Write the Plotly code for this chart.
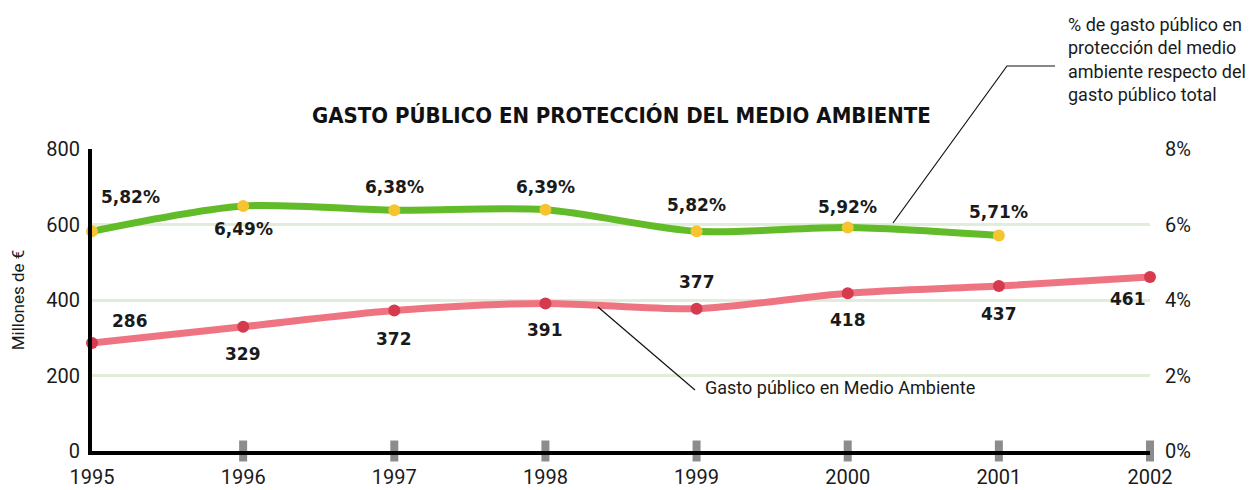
import plotly.graph_objects as go

# Data
years = [1995, 1996, 1997, 1998, 1999, 2000, 2001, 2002]
gasto_ma = [286, 329, 372, 391, 377, 418, 437, 461]          # millones de euros
pct_years = [1995, 1996, 1997, 1998, 1999, 2000, 2001]
pct_gasto = [5.82, 6.49, 6.38, 6.39, 5.82, 5.92, 5.71]       # % del gasto público total
left_ticks = [0, 200, 400, 600, 800]
right_ticks = [0, 2, 4, 6, 8]

# Label placement (pixel offsets from each point)
gasto_offsets = [(38, 22), (0, -27), (0, -28), (0, -27), (0, 27), (0, -27), (0, -28), (-22, -22)]
pct_offsets = [(38, 34), (0, -23), (0, 23), (0, 23), (0, 26), (0, 21), (0, 23)]

GREEN = "#62BC2A"
YELLOW = "#F6C431"
PINK = "#EE7482"
RED = "#D63A4F"
GRID = "#E2EDD9"
FONT = "Roboto"
LABEL_FONT = dict(family="DejaVu Sans", size=17, color="#1a1a1a")

fig = go.Figure()

fig.add_trace(go.Scatter(
    x=years, y=gasto_ma, mode="lines+markers",
    line=dict(color=PINK, width=7, shape="spline", smoothing=0.8),
    marker=dict(color=RED, size=12),
    cliponaxis=False, showlegend=False, hoverinfo="skip",
))
fig.add_trace(go.Scatter(
    x=pct_years, y=pct_gasto, mode="lines+markers", yaxis="y2",
    line=dict(color=GREEN, width=7, shape="spline", smoothing=0.8),
    marker=dict(color=YELLOW, size=12),
    cliponaxis=False, showlegend=False, hoverinfo="skip",
))

# Gray tick blocks on the x axis
fig.add_trace(go.Scatter(
    x=years[1:], y=[0] * (len(years) - 1), mode="markers",
    marker=dict(symbol="line-ns", size=15, line=dict(color="#8C8C8C", width=8)),
    cliponaxis=False, showlegend=False, hoverinfo="skip",
))

annotations = []
for x, v, (dx, dy) in zip(years, gasto_ma, gasto_offsets):
    annotations.append(dict(
        x=x, y=v, xref="x", yref="y", text=f"<b>{v}</b>", showarrow=False,
        xshift=dx, yshift=dy, font=LABEL_FONT,
    ))
for x, v, (dx, dy) in zip(pct_years, pct_gasto, pct_offsets):
    annotations.append(dict(
        x=x, y=v, xref="x", yref="y2", text="<b>" + f"{v:.2f}".replace(".", ",") + "%</b>",
        showarrow=False, xshift=dx, yshift=dy, font=LABEL_FONT,
    ))

L, R, T, B = 92, 104, 149, 39
PW, PH = 1254 - L - R, 490 - T - B


def px(x, y):
    return (x - L) / PW, (490 - B - y) / PH


# Callout texts
cx, cy = px(703, 387)
annotations.append(dict(
    x=cx, y=cy, xref="paper", yref="paper", xanchor="left", yanchor="middle",
    text="Gasto público en Medio Ambiente", showarrow=False,
    font=dict(family=FONT, size=18, color="#1a1a1a"),
))
tx, ty = px(1066, 60)
annotations.append(dict(
    x=tx, y=ty, xref="paper", yref="paper", xanchor="left", yanchor="middle", align="left",
    text="% de gasto público en<br>protección del medio<br>ambiente respecto del<br>gasto público total",
    showarrow=False, font=dict(family=FONT, size=18, color="#1a1a1a"),
))

# Title
annotations.append(dict(
    x=0.5, y=px(0, 115)[1], xref="paper", yref="paper", xanchor="center", yanchor="middle",
    text="<b>GASTO PÚBLICO EN PROTECCIÓN DEL MEDIO AMBIENTE</b>", showarrow=False,
    font=dict(family="DejaVu Sans Condensed", size=22, color="#111111"),
))

# Leader lines
p1, p2 = px(598, 307), px(695, 390)
p3, p4, p5 = px(893, 223), px(1007, 66), px(1055, 66)
shapes = [
    dict(type="line", xref="paper", yref="paper", x0=p1[0], y0=p1[1], x1=p2[0], y1=p2[1],
         line=dict(color="#111111", width=1.2)),
    dict(type="path", xref="paper", yref="paper",
         path=f"M {p3[0]} {p3[1]} L {p4[0]} {p4[1]} L {p5[0]} {p5[1]}",
         line=dict(color="#111111", width=1.2)),
]

fig.update_layout(
    width=1254, height=490,
    margin=dict(l=L, r=R, t=T, b=B, autoexpand=False),
    paper_bgcolor="white", plot_bgcolor="white",
    font=dict(family=FONT, size=20, color="#1a1a1a"),
    annotations=annotations, shapes=shapes,
    xaxis=dict(
        range=[1995, 2002], tickvals=years, ticktext=[str(y) for y in years],
        showgrid=False, zeroline=False, showline=True, linecolor="#000000", linewidth=4,
        ticks="", ticklabelstandoff=5, tickfont=dict(size=20), automargin=False,
    ),
    yaxis=dict(
        range=[0, 800], tickvals=left_ticks, showgrid=True, gridcolor=GRID, gridwidth=3,
        zeroline=False, showline=True, linecolor="#000000", linewidth=4, ticks="",
        ticklabelstandoff=4, tickfont=dict(size=20), automargin=False,
        title=dict(text="Millones de €", font=dict(size=17), standoff=18),
    ),
    yaxis2=dict(
        range=[0, 8], tickvals=right_ticks, ticktext=[f"{t}%" for t in right_ticks],
        overlaying="y", side="right", automargin=False,
        showgrid=False, zeroline=False, showline=False, ticks="",
        ticklabelstandoff=14, tickfont=dict(size=20),
    ),
)

fig.write_html("out.html")
